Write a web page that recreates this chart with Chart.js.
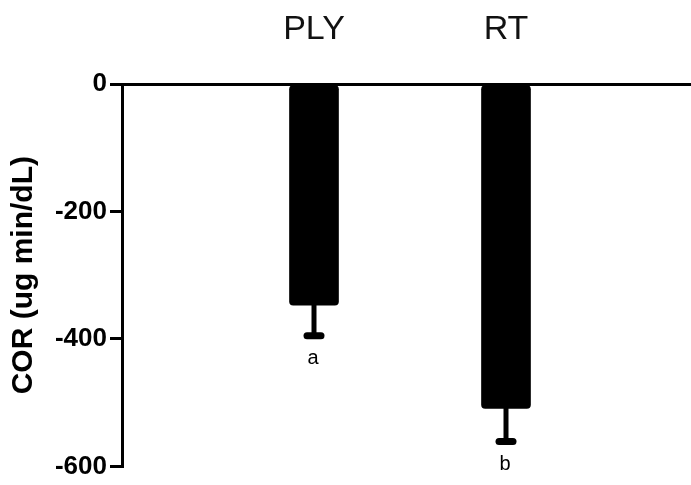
<!DOCTYPE html>
<html>
<head>
<meta charset="utf-8">
<script src="https://cdn.jsdelivr.net/npm/chart.js@4"></script>
<style>
  html, body { margin: 0; padding: 0; background: #fff; overflow: hidden; }
  #wrap { width: 698px; height: 485px; }
</style>
</head>
<body>
<div id="wrap"><canvas id="chart"></canvas></div>
<script>
// số liệu
const categories = ['PLY', 'RT'];
const corValues = [-347, -509];
const corErrors = [48, 52];
const letters = ['a', 'b'];
const yTicks = [0, -200, -400, -600];

// thêm nhãn trống hai đầu để căn vị trí cột
const labels = [''].concat(categories, ['']);
const barData = [null].concat(corValues, [null]);

// vẽ thanh sai số và chữ a/b
const errorBars = {
    id: 'errorBars',
    afterDatasetsDraw(chart) {
        const ctx = chart.ctx;
        const x = chart.scales.x;
        const y = chart.scales.y;
        ctx.save();
        ctx.strokeStyle = '#000';
        ctx.fillStyle = '#000';
        categories.forEach((c, i) => {
            const px = x.getPixelForValue(i + 1);
            const yBar = y.getPixelForValue(corValues[i]);
            const yCap = y.getPixelForValue(corValues[i] - corErrors[i]);
            ctx.lineWidth = 5;
            ctx.lineCap = 'butt';
            ctx.beginPath();
            ctx.moveTo(px, yBar - 2);
            ctx.lineTo(px, yCap);
            ctx.stroke();
            ctx.lineWidth = 7;
            ctx.lineCap = 'round';
            ctx.beginPath();
            ctx.moveTo(px - 7, yCap);
            ctx.lineTo(px + 7, yCap);
            ctx.stroke();
            ctx.font = '20px "Liberation Sans", Arial, sans-serif';
            ctx.textAlign = 'center';
            ctx.textBaseline = 'alphabetic';
            ctx.fillText(letters[i], px - 1, yCap + 28);
        });
        ctx.restore();
    }
};

new Chart(document.getElementById('chart'), {
    type: 'bar',
    data: {
        labels: labels,
        datasets: [{
            data: barData,
            backgroundColor: '#000',
            borderRadius: 4,
            borderSkipped: false,
            barThickness: 49
        }]
    },
    options: {
        responsive: true,
        maintainAspectRatio: false,
        animation: false,
        layout: { padding: { left: 0, right: 0, top: 0, bottom: 18 } },
        plugins: {
            legend: { display: false },
            tooltip: { enabled: false }
        },
        scales: {
            x: {
                position: 'top',
                offset: false,
                grid: { drawOnChartArea: false, drawTicks: false },
                border: { display: true, color: '#000', width: 3 },
                ticks: {
                    color: '#111',
                    padding: 34,
                    maxRotation: 0,
                    autoSkip: false,
                    font: { family: '"Liberation Sans", Arial, sans-serif', size: 34 }
                },
                afterFit: s => { s.height = 84; s.paddingLeft = 0; s.paddingRight = 0; }
            },
            y: {
                min: -600,
                max: 0,
                afterBuildTicks: s => { s.ticks = yTicks.map(v => ({ value: v })); },
                grid: { drawOnChartArea: false, drawTicks: true, tickLength: 12, color: '#000', lineWidth: 3 },
                border: { display: true, color: '#000', width: 3 },
                ticks: {
                    color: '#000',
                    padding: 3,
                    font: { family: '"Liberation Sans", Arial, sans-serif', size: 26, weight: 'bold' }
                },
                title: {
                    display: true,
                    text: 'COR (ug min/dL)',
                    color: '#000',
                    padding: { top: 6, bottom: 0 },
                    font: { family: '"Liberation Sans", Arial, sans-serif', size: 30, weight: 'bold' }
                },
                afterFit: s => { s.width = 122; }
            }
        }
    },
    plugins: [errorBars]
});
</script>
</body>
</html>
